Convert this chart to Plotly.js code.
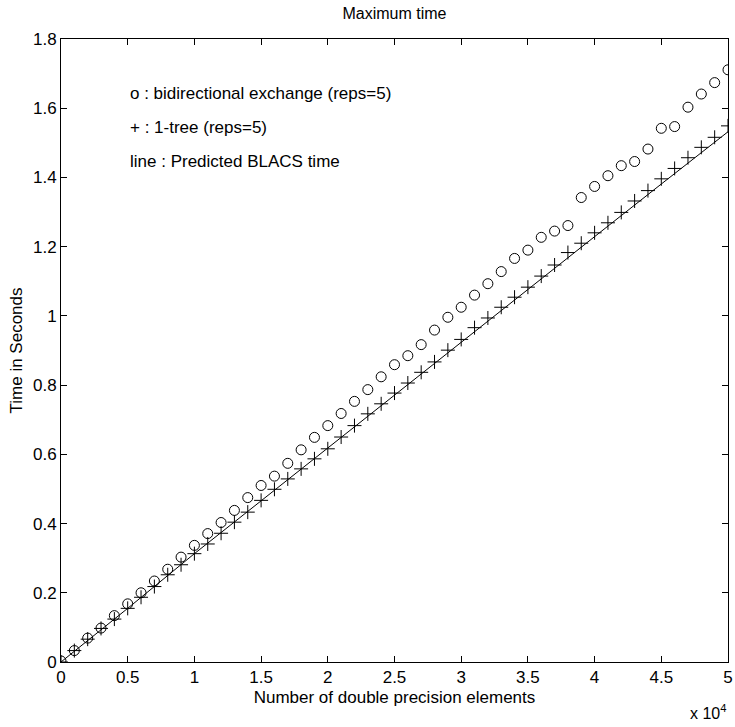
<!DOCTYPE html>
<html>
<head>
<meta charset="utf-8">
<script src="https://cdn.plot.ly/plotly-3.0.1.min.js"></script>
<style>html,body{margin:0;padding:0;background:#fff;}#chart{width:735px;height:727px;}</style>
</head>
<body>
<div id="chart"></div>
<script>
// x in units of 10^4 double precision elements
const xElems = [0,0.1,0.2,0.3,0.4,0.5,0.6,0.7,0.8,0.9,1.0,1.1,1.2,1.3,1.4,1.5,1.6,1.7,1.8,1.9,2.0,2.1,2.2,2.3,2.4,2.5,2.6,2.7,2.8,2.9,3.0,3.1,3.2,3.3,3.4,3.5,3.6,3.7,3.8,3.9,4.0,4.1,4.2,4.3,4.4,4.5,4.6,4.7,4.8,4.9,5.0];
const bidirTime = [0.003,0.033,0.069,0.098,0.134,0.168,0.200,0.234,0.268,0.303,0.337,0.371,0.403,0.438,0.475,0.510,0.537,0.574,0.613,0.649,0.683,0.718,0.753,0.787,0.824,0.859,0.885,0.917,0.959,0.996,1.025,1.060,1.093,1.128,1.166,1.190,1.227,1.245,1.261,1.342,1.374,1.405,1.434,1.446,1.482,1.542,1.547,1.603,1.641,1.674,1.711];
const treeTime = [0,0.033,0.066,0.097,0.124,0.155,0.187,0.218,0.252,0.281,0.313,0.341,0.372,0.404,0.433,0.467,0.499,0.529,0.558,0.587,0.616,0.650,0.683,0.717,0.746,0.777,0.806,0.837,0.867,0.901,0.932,0.966,0.994,1.025,1.054,1.083,1.115,1.147,1.183,1.210,1.240,1.269,1.299,1.332,1.362,1.396,1.426,1.457,1.487,1.516,1.549];
const predX = [0,0.5,1.0,1.5,2.0,2.5,3.0,3.5,4.0,4.5,5.0];
const predTime = [0,0.155,0.313,0.466,0.619,0.770,0.924,1.077,1.229,1.381,1.532];
const xTicks = [0,0.5,1,1.5,2,2.5,3,3.5,4,4.5,5];
const xTickText = ['0','0.5','1','1.5','2','2.5','3','3.5','4','4.5','5'];
const yTicks = [0,0.2,0.4,0.6,0.8,1,1.2,1.4,1.6,1.8];
const yTickText = ['0','0.2','0.4','0.6','0.8','1','1.2','1.4','1.6','1.8'];
const notes = ['o : bidirectional exchange (reps=5)','+ : 1-tree (reps=5)','line : Predicted BLACS time'];

const FONT = '"Liberation Sans Narrow", "Liberation Sans", Arial, sans-serif';

const traces = [
  {x: predX, y: predTime, mode: 'lines', line: {color: '#000', width: 1}, hoverinfo: 'skip'},
  {x: xElems, y: bidirTime, mode: 'markers', marker: {symbol: 'circle-open', size: 10, color: '#000', line: {width: 1, color: '#000'}}},
  {x: xElems, y: treeTime, mode: 'markers', marker: {symbol: 'cross-thin-open', size: 10, color: '#000', line: {width: 1, color: '#000'}}}
];

const annotations = notes.map((t, i) => ({
  text: t, xref: 'paper', yref: 'paper', x: (128-61)/667, y: 1 - ([93, 128, 161][i]-39)/623,
  xanchor: 'left', yanchor: 'middle', showarrow: false, font: {family: FONT, size: 17, color: '#000'}
}));
annotations.push({text: 'x 10<sup>4</sup>', xref: 'paper', yref: 'paper', x: 1.0, y: -(712-662)/623,
  xanchor: 'right', yanchor: 'middle', showarrow: false, font: {family: FONT, size: 16, color: '#000'}});

const layout = {
  width: 735, height: 727,
  margin: {l: 61, r: 7, t: 39, b: 65},
  paper_bgcolor: '#fff', plot_bgcolor: '#fff',
  showlegend: false,
  font: {family: FONT, size: 17, color: '#000'},
  title: {text: 'Maximum time', font: {family: FONT, size: 16, color: '#000'}, x: 0.5 + (61-7)/2/735*0 , xref: 'paper', y: 1 - 13/727, yref: 'container', yanchor: 'middle'},
  xaxis: {range: [0, 5], tickvals: xTicks, ticktext: xTickText, ticks: 'inside', ticklen: 6, tickcolor: '#000',
    showline: true, linecolor: '#000', linewidth: 1, mirror: 'ticks', showgrid: false, zeroline: false,
    tickfont: {family: FONT, size: 17}, title: {text: 'Number of double precision elements', font: {family: FONT, size: 17}, standoff: 4}},
  yaxis: {range: [0, 1.8], tickvals: yTicks, ticktext: yTickText, ticks: 'inside', ticklen: 6, tickcolor: '#000',
    showline: true, linecolor: '#000', linewidth: 1, mirror: 'ticks', showgrid: false, zeroline: false,
    tickfont: {family: FONT, size: 17}, title: {text: 'Time in Seconds', font: {family: FONT, size: 17}, standoff: 6}},
  annotations: annotations
};

Plotly.newPlot('chart', traces, layout, {displayModeBar: false, staticPlot: true});
</script>
</body>
</html>
